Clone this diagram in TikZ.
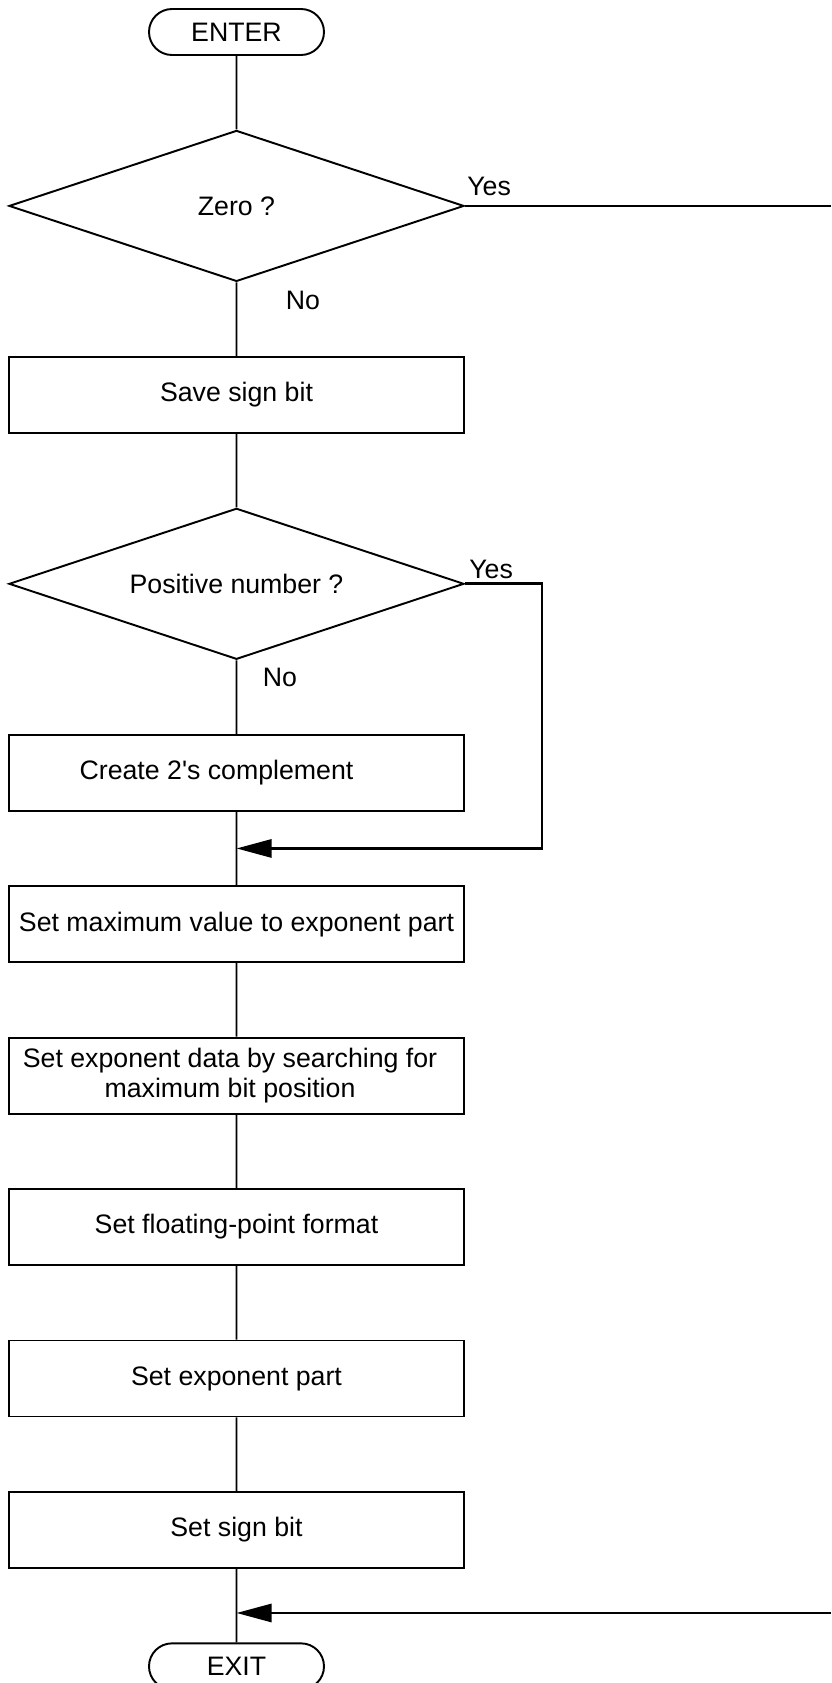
\documentclass[tikz,border=0pt]{standalone}
\usepackage{fontspec}
\setmainfont{Liberation Sans}
\usetikzlibrary{positioning,calc}
\usetikzlibrary{arrows.meta}
\usetikzlibrary{shapes.geometric,shapes.misc}

\begin{document}
\begin{tikzpicture}[
         font=\fontsize{15.2pt}{17.6pt}\selectfont,
         node distance=1.47cm,
         term/.style = {draw,rounded rectangle,line width=1.1pt,
         minimum width=3.5cm,minimum height=0.92cm,inner sep=0pt},
         decide/.style = {draw,diamond,aspect=3,line width=1.1pt,
         minimum width=9.1cm,minimum height=3.02cm,inner sep=0pt},
         proc/.style = {draw,rectangle,line width=1.1pt,align=center,
         minimum width=9.1cm,minimum height=1.52cm,inner sep=0pt},
         answer/.style = {inner sep=0pt},
         flow/.style = {line width=1.1pt},
         back/.style = {line width=1.6pt,
         -{Triangle[length=7mm,width=3.6mm]}}
]
      \useasboundingbox (0,0) rectangle (16.62,-33.66);
      \coordinate (edge) at (16.62,0);

      % main column
      \node[term]                         (enter) at (4.73,-0.64) {ENTER};
      \node[decide,below=of enter]        (zero)   {Zero ?};
      \node[proc,below=of zero]           (save)   {Save sign bit};
      \node[decide,below=of save]         (pos)    {Positive number ?};
      \node[proc,below=of pos]            (comp)
         {Create 2\textquotesingle s complement\hspace*{0.8cm}};
      \node[proc,below=of comp]           (setmax)
         {Set maximum value to exponent part};
      \node[proc,below=of setmax]         (setexp)
         {Set exponent data by searching for\hspace*{0.26cm}\\
          maximum bit position\hspace*{0.26cm}};
      \node[proc,below=of setexp]         (setfmt) {Set floating-point format};
      \node[proc,below=of setfmt]         (setpart) {Set exponent part};
      \node[proc,below=of setpart]        (setsign) {Set sign bit};
      \node[term,below=of setsign]        (exit)   {EXIT};

      % branch labels
      \node[answer,above right=0.19cm and 0.04cm of zero.east] (y1) {Yes};
      \node[answer,below right=0.17cm and 0.98cm of zero.south] (n1) {No};
      \node[answer,above right=0.09cm and 0.08cm of pos.east]  (y2) {Yes};
      \node[answer,below right=0.15cm and 0.52cm of pos.south] (n2) {No};

      % joints on the main line
      \coordinate (j1) at ($(comp.south)!0.5!(setmax.north)$);
      \coordinate (j2) at ($(setsign.south)!0.6!(exit.north)$);
      \coordinate (r1) at (zero.east -| edge);
      \coordinate (r2) at (j2 -| edge);

      \draw[flow] (enter) -- (zero) -- (save) -- (pos) -- (comp) -- (setmax)
         -- (setexp) -- (setfmt) -- (setpart) -- (setsign) -- (exit);

      % yes branches
      \draw[flow] (zero.east) -- (r1);
      \draw[back] (pos.east) -- ++(1.54,0) |- (j1);
      \draw[back] (r2) -- (j2);
\end{tikzpicture}
\end{document}
